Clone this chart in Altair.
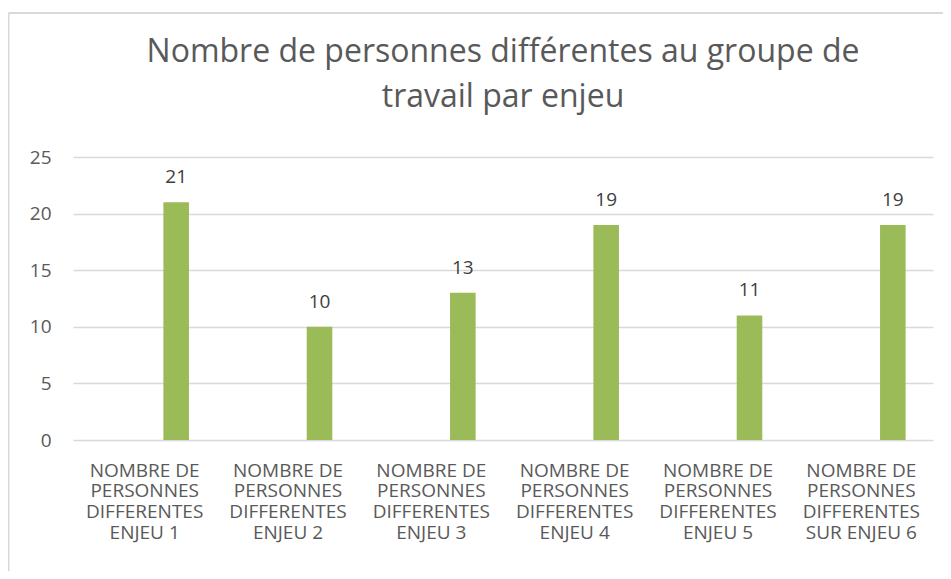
import altair as alt
import pandas as pd

categories = [
    "NOMBRE DE|PERSONNES|DIFFERENTES|ENJEU 1",
    "NOMBRE DE|PERSONNES|DIFFERENTES|ENJEU 2",
    "NOMBRE DE|PERSONNES|DIFFERENTES|ENJEU 3",
    "NOMBRE DE|PERSONNES|DIFFERENTES|ENJEU 4",
    "NOMBRE DE|PERSONNES|DIFFERENTES|ENJEU 5",
    "NOMBRE DE|PERSONNES|DIFFERENTES|SUR ENJEU 6",
]
values = [21, 10, 13, 19, 11, 19]
y_ticks = [0, 5, 10, 15, 20, 25]
title_lines = ["Nombre de personnes différentes au groupe de", "travail par enjeu"]

df = pd.DataFrame({"cat": categories, "val": values})

FONT = "Open Sans"
GREY = "#595959"

x_enc = alt.X("cat:N", sort=categories,
              scale=alt.Scale(paddingInner=0, paddingOuter=0),
              axis=alt.Axis(title=None, labelAngle=0, domain=False, ticks=False,
                            labelExpr="split(datum.label, '|')",
                            labelFont=FONT, labelFontSize=19, labelColor=GREY,
                            labelPadding=21, labelLineHeight=20.7, labelBaseline="top",
                            labelLimit=200))
y_enc = alt.Y("val:Q", scale=alt.Scale(domain=[0, 25], nice=False),
              axis=alt.Axis(title=None, values=y_ticks, domain=False, ticks=False,
                            grid=True, gridColor="#d9d9d9", gridWidth=1.4,
                            labelFont=FONT, labelFontSize=19, labelColor=GREY,
                            labelPadding=22))

bars = alt.Chart(df).mark_bar(width=25.6, xOffset=31.5, color="#9BBB59").encode(x=x_enc, y=y_enc)
labels = alt.Chart(df).mark_text(xOffset=31.5, dy=-19, font=FONT, fontSize=19,
                                 color="#404040", baseline="alphabetic").encode(
    x=alt.X("cat:N", sort=categories), y="val:Q", text="val:Q")

border = alt.Chart(pd.DataFrame({"k": [0]})).mark_rule(color="#d9d9d9", strokeWidth=2).encode(
    x=alt.value(-64.5), y=alt.value(-144), y2=alt.value(430))
border_top = alt.Chart(pd.DataFrame({"k": [0]})).mark_rule(color="#d9d9d9", strokeWidth=2).encode(
    x=alt.value(-64.5), x2=alt.value(900), y=alt.value(-144))

chart = alt.layer(border, border_top, bars, labels).properties(
    width=860, height=283,
    autosize=alt.AutoSizeParams(type="none"),
    padding={"left": 65, "top": 149, "right": 10, "bottom": 131},
    title=alt.TitleParams(title_lines, font=FONT, fontSize=32, fontWeight="normal",
                          color=GREY, anchor="middle", lineHeight=45, offset=-102),
).configure_view(stroke=None)

chart.save("out.html", embed_options={"renderer": "svg", "actions": False})
